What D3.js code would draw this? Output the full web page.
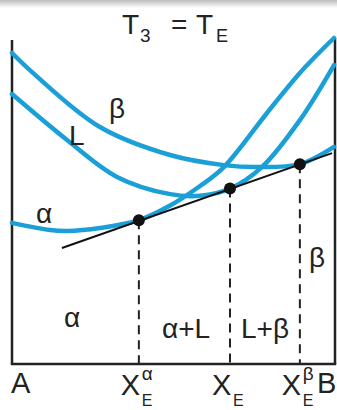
<!DOCTYPE html>
<html>
<head>
<meta charset="utf-8">
<script src="https://cdn.jsdelivr.net/npm/d3@7"></script>
<style>
  html, body { margin: 0; padding: 0; background: #fff; }
  svg { display: block; }
  text { font-family: "Liberation Sans", Arial, sans-serif; fill: #222; }
</style>
</head>
<body>
<svg id="chart" width="337" height="410"></svg>
<script>
// Free-energy curves at T3 = TE: composition (0 = A, 1 = B) vs free energy G (arbitrary units)
const alphaCurve = [
  [0.000, 43.3], [0.118, 41.1], [0.171, 40.8], [0.273, 41.7], [0.394, 44.1],
  [0.491, 48.6], [0.584, 54.6], [0.658, 60.4], [0.792, 77.0], [0.894, 89.3], [1.000, 100.0]
];
const liquidCurve = [
  [0.000, 82.8], [0.171, 68.7], [0.326, 57.4], [0.491, 52.1], [0.584, 51.6],
  [0.677, 53.8], [0.776, 60.4], [0.894, 74.8], [1.000, 91.7]
];
const betaCurve = [
  [0.000, 95.4], [0.065, 89.3], [0.273, 72.7], [0.491, 64.1], [0.658, 61.0],
  [0.761, 60.4], [0.894, 61.3], [1.000, 66.6]
];
// Common tangent and its points of contact
const tangentLine = [[0.155, 35.6], [0.994, 64.7]];
const contactPoints = [[0.394, 44.1], [0.677, 53.8], [0.894, 61.3]];

const svg = d3.select("#chart");

// Soft grey band along the top edge
const defs = svg.append("defs");
const grad = defs.append("linearGradient").attr("id", "topShade")
  .attr("x1", 0).attr("y1", 0).attr("x2", 0).attr("y2", 1);
grad.append("stop").attr("offset", "0%").attr("stop-color", "#bdbdbd");
grad.append("stop").attr("offset", "100%").attr("stop-color", "#ffffff");
svg.append("rect").attr("x", 0).attr("y", 0).attr("width", 337).attr("height", 8)
  .attr("fill", "url(#topShade)");

const x = d3.scaleLinear().domain([0, 1]).range([12, 334]);
const y = d3.scaleLinear().domain([0, 100]).range([364, 38]);

const line = d3.line()
  .x(d => x(d[0])).y(d => y(d[1]))
  .curve(d3.curveCatmullRom.alpha(0.5));

// Frame: left, bottom and right edges
const frame = svg.append("g").attr("stroke", "#222").attr("stroke-width", 2.5).attr("fill", "none");
frame.append("line").attr("x1", x(0)).attr("x2", x(0)).attr("y1", 40).attr("y2", y(0));
frame.append("line").attr("x1", x(1) + 1).attr("x2", x(1) + 1).attr("y1", 38).attr("y2", y(0));
frame.append("line").attr("x1", x(0) - 1.2).attr("x2", x(1) + 2.2).attr("y1", y(0)).attr("y2", y(0));

// Dashed drop lines from the contact points
svg.append("g").selectAll("line").data(contactPoints).join("line")
  .attr("x1", d => x(d[0])).attr("x2", d => x(d[0]))
  .attr("y1", d => y(d[1])).attr("y2", y(0))
  .attr("stroke", "#222").attr("stroke-width", 2)
  .attr("stroke-dasharray", "9,6");

// Free-energy curves
const blue = "#1aa0d6";
svg.append("g").selectAll("path").data([betaCurve, liquidCurve, alphaCurve]).join("path")
  .attr("d", line)
  .attr("fill", "none").attr("stroke", blue).attr("stroke-width", 4.5)
  .attr("stroke-linecap", "round");

// Common tangent
svg.append("path").datum(tangentLine)
  .attr("d", d3.line().x(d => x(d[0])).y(d => y(d[1])))
  .attr("stroke", "#111").attr("stroke-width", 2).attr("fill", "none");

svg.append("g").selectAll("circle").data(contactPoints).join("circle")
  .attr("cx", d => x(d[0])).attr("cy", d => y(d[1])).attr("r", 6)
  .attr("fill", "#111");

// Text helper
function label(tx, ty, str, size) {
  svg.append("text").attr("x", tx).attr("y", ty).attr("font-size", size).text(str);
}

// Title: T3 = TE
label(122, 34, "T", 28);
label(140, 42, "3", 19);
label(171, 34, "=", 28);
label(196, 34, "T", 28);
label(216, 42, "E", 18);

// Curve and region labels
label(109, 118, "β", 28);
label(69, 145, "L", 28);
label(36, 223, "α", 28);
label(64, 327, "α", 28);
label(162, 338, "α+L", 28);
label(241, 338, "L+β", 28);
label(309, 267, "β", 28);

// Composition axis labels
label(11, 393, "A", 29);
label(317, 393, "B", 29);
const compLabels = [
  { c: contactPoints[0][0], sup: "α" },
  { c: contactPoints[1][0], sup: "" },
  { c: contactPoints[2][0], sup: "β" }
];
compLabels.forEach(d => {
  const px = x(d.c) - 18;
  label(px, 395, "X", 29);
  label(px + 21, 406, "E", 16);
  if (d.sup) label(px + 21, 380, d.sup, 19);
});
</script>
</body>
</html>
